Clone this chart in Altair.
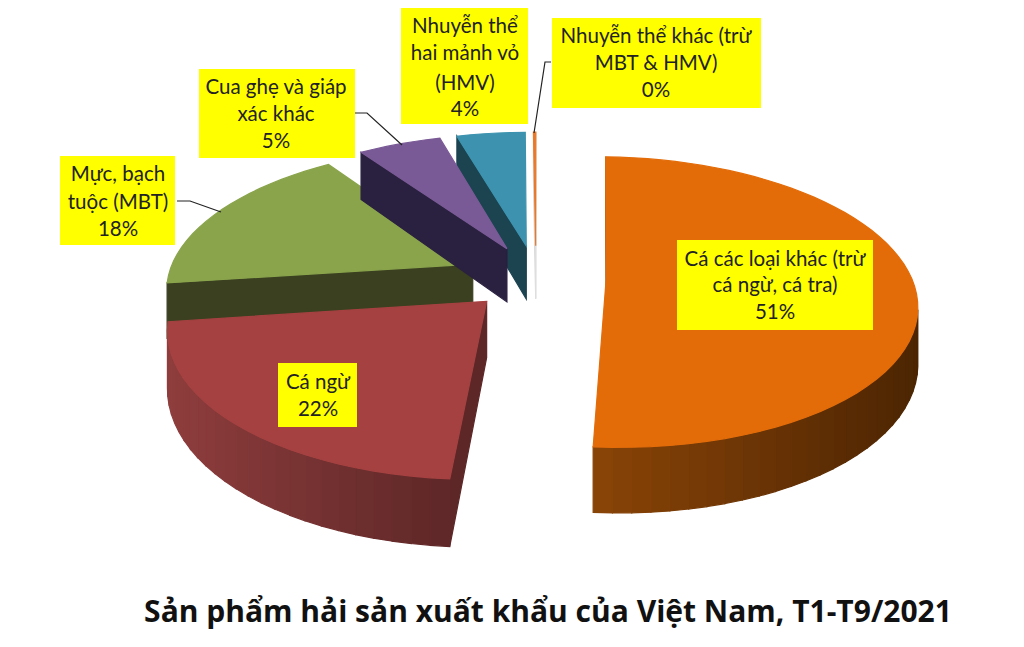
import math
import altair as alt

# ---- values
categories = ["Cá các loại khác", "Cá ngừ", "Mực, bạch tuộc", "Cua ghẹ", "Nhuyễn thể HMV", "Nhuyễn thể khác"]
shares = [50.6, 21.7, 17.5, 5.2, 4.3, 0.15]
top_colors = ["#E36C09", "#A54141", "#8AA44C", "#7A5A96", "#3D93AF", "#E8792A"]
wall_light = ["#8A4407", "#8F3D3D", "#3E4722", "#2E2344", "#1C4552", "#C9C9C9"]
wall_dark = ["#4C2503", "#5E2727", "#3A4020", "#2A2040", "#1A414E", "#E0E0E0"]
draw_order = [0, 5, 4, 2, 3, 1]

label_lines = [
    ("Cá các loại khác (trừ", 775, 260), ("cá ngừ, cá tra)", 775, 286), ("51%", 775, 313),
    ("Cá ngừ", 318, 383), ("22%", 318, 410),
    ("Mực, bạch", 118, 175), ("tuộc (MBT)", 118, 203), ("18%", 118, 230),
    ("Cua ghẹ và giáp", 276, 88), ("xác khác", 276, 115), ("5%", 276, 142),
    ("Nhuyễn thể", 465, 27), ("hai mảnh vỏ", 465, 54), ("(HMV)", 465, 84), ("4%", 465, 110),
    ("Nhuyễn thể khác (trừ", 656, 37), ("MBT & HMV)", 656, 64), ("0%", 656, 91),
]
label_boxes = [
    (677, 873, 240, 330), (278, 357, 363, 427), (60, 175, 156, 245),
    (199, 355, 69, 158), (401, 528, 8, 124), (552, 761, 18, 108),
]
leaders = [
    (0, 355, 113), (0, 367, 113), (0, 402, 145),
    (1, 177, 201), (1, 190, 201), (1, 221, 212),
    (2, 551, 62), (2, 545, 62), (2, 534, 133),
]
title_text = "Sản phẩm hải sản xuất khẩu của Việt Nam, T1-T9/2021"

# ---- 3D pie view: a perspective picture of the pie, angles from the shares
CX, CY, A, B, K, Z, EXPLODE, START = 536, 277, 305, 141, 0.16, 55, 0.23, 2.0


def project(X, Y, lower=False):
    d = 1 - K * Y
    return [CX + A * X / d, CY + (B * Y + (Z if lower else 0)) / d]


def lerp(c1, c2, f):
    a = [int(c1[i:i + 2], 16) for i in (1, 3, 5)]
    b = [int(c2[i:i + 2], 16) for i in (1, 3, 5)]
    return "#%02x%02x%02x" % tuple(round(p + (q - p) * f) for p, q in zip(a, b))


def feature(points, colour):
    return {"type": "Feature", "properties": {"fill": colour},
            "geometry": {"type": "Polygon", "coordinates": [points + [points[0]]]}}


def shoelace(q):
    return sum(q[i][0] * q[(i + 1) % len(q)][1] - q[(i + 1) % len(q)][0] * q[i][1] for i in range(len(q)))


spans, acc = [], START
for s in shares:
    spans.append((acc, acc + s * 3.6))
    acc += s * 3.6

features = []
for i in draw_order:
    t0, t1 = spans[i]
    mid = math.radians((t0 + t1) / 2)
    ox, oy = EXPLODE * math.sin(mid), -EXPLODE * math.cos(mid)
    n = max(2, int((t1 - t0) / 3))
    rim = []
    for j in range(n + 1):
        t = math.radians(t0 + (t1 - t0) * j / n)
        rim.append((ox + math.sin(t), oy - math.cos(t)))
    tip = (ox, oy)
    outline = [tip] + rim
    xs = [project(*p)[0] for p in rim]
    lo, hi = min(xs), max(xs)
    edges = list(zip(outline, outline[1:] + outline[:1]))
    for a, b in edges:
        q = [project(*a), project(*b), project(*b, True), project(*a, True)]
        if shoelace(q) < 0:
            f = ((q[0][0] + q[1][0]) / 2 - lo) / max(hi - lo, 1)
            f = min(max(f, 0), 1)
            features.append(feature(q, lerp(wall_light[i], wall_dark[i], f)))
    features.append(feature([project(*p) for p in outline], top_colors[i]))

W, H = 1008, 631
X_SCALE = alt.Scale(domain=[8, 8 + W])
Y_SCALE = alt.Scale(domain=[8 + H, 8])

pie = alt.Chart(alt.Data(values=features)).mark_geoshape(strokeWidth=1.2).encode(
    fill=alt.Fill("properties.fill:N", scale=None),
    stroke=alt.Stroke("properties.fill:N", scale=None),
).project(type="identity", scale=1, translate=[-8, -8])

box_rows = [dict(x=b[0], x2=b[1], y=b[2], y2=b[3]) for b in label_boxes]
boxes = alt.Chart(alt.Data(values=box_rows)).mark_rect(color="#FFFF00").encode(
    x=alt.X("x:Q", scale=X_SCALE, axis=None), x2="x2:Q",
    y=alt.Y("y:Q", scale=Y_SCALE, axis=None), y2="y2:Q",
)

lead_rows = [dict(g=g, x=x, y=y, o=k) for k, (g, x, y) in enumerate(leaders)]
lines = alt.Chart(alt.Data(values=lead_rows)).mark_line(color="#222222", strokeWidth=1.2).encode(
    x=alt.X("x:Q", scale=X_SCALE, axis=None),
    y=alt.Y("y:Q", scale=Y_SCALE, axis=None),
    detail="g:N", order="o:Q",
)

text_rows = [dict(t=t, x=x, y=y) for t, x, y in label_lines]
texts = alt.Chart(alt.Data(values=text_rows)).mark_text(
    font="Lato, Noto Sans", fontSize=20.5, color="#222222", baseline="middle", align="center"
).encode(
    x=alt.X("x:Q", scale=X_SCALE, axis=None),
    y=alt.Y("y:Q", scale=Y_SCALE, axis=None),
    text="t:N",
)

title = alt.Chart(alt.Data(values=[dict(t=title_text, x=548, y=613)])).mark_text(
    font="Open Sans, Noto Sans", fontSize=30, fontWeight="bold", color="#111111", baseline="middle", align="center"
).encode(
    x=alt.X("x:Q", scale=X_SCALE, axis=None),
    y=alt.Y("y:Q", scale=Y_SCALE, axis=None),
    text="t:N",
)

chart = alt.layer(pie, lines, boxes, texts, title).properties(
    width=W, height=H, padding=0, autosize=alt.AutoSizeParams(type="none"),
    background="white",
).configure_view(stroke=None)

chart.save("out.html", embed_options={"renderer": "svg", "actions": False})
